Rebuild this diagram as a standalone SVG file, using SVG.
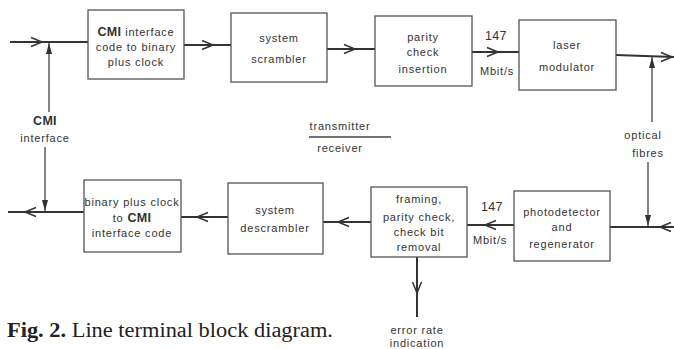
<svg xmlns="http://www.w3.org/2000/svg" width="674" height="349" viewBox="0 0 674 349">
<style>
.box{fill:#fff;stroke:#555;stroke-width:1.3}
.sig{fill:none;stroke:#333;stroke-width:2}
.thin{fill:none;stroke:#444;stroke-width:1.3}
.chev{fill:none;stroke:#333;stroke-width:1.5;stroke-linejoin:miter}
.tri{fill:#333;stroke:none}
text{font-family:"Liberation Sans",Arial,sans-serif;font-size:11px;fill:#333;letter-spacing:0.8px;text-anchor:middle}
.b{font-weight:bold;font-size:12.5px;letter-spacing:0.3px}
.cap{font-family:"Liberation Serif","Times New Roman",serif;font-size:20px;fill:#222;text-anchor:start;letter-spacing:0}
</style>
<defs>
<path id="chev" class="chev" d="M-11,-4.5 L0,0 L-11,4.5"/>
<path id="tri" class="tri" d="M0,0 L-3,-11 L3,-11 Z"/>
</defs>
<g id="connectors">
<path class="sig" d="M10,42 L88,42"/><use href="#chev" transform="translate(42,42)"/>
<path class="thin" d="M49,112 L49,43"/><use href="#tri" transform="translate(49,43) rotate(180)"/>
<path class="sig" d="M184,45 L231,45"/><use href="#chev" transform="translate(213,45)"/>
<path class="sig" d="M327,49 L375,49"/><use href="#chev" transform="translate(355,49)"/>
<path class="sig" d="M472,52 L519,52"/><use href="#chev" transform="translate(498,52)"/>
<path class="sig" d="M616,55 L674,57"/><use href="#chev" transform="translate(672,57)"/>
<path class="thin" d="M652,122 L652,57"/><use href="#tri" transform="translate(652,57) rotate(180)"/>
<path class="thin" d="M45,147 L45,211"/><use href="#tri" transform="translate(45,211)"/>
<path class="sig" d="M84,212 L8,212"/><use href="#chev" transform="translate(25,212) rotate(180)"/>
<path class="sig" d="M228,217 L181,217"/><use href="#chev" transform="translate(197,217) rotate(180)"/>
<path class="sig" d="M371,222 L323,222"/><use href="#chev" transform="translate(338,222) rotate(180)"/>
<path class="sig" d="M514,225 L467,225"/><use href="#chev" transform="translate(485,225) rotate(180)"/>
<path class="sig" d="M674,227 L610,227"/><use href="#chev" transform="translate(660,227) rotate(180)"/>
<path class="thin" d="M648,162 L648,226"/><use href="#tri" transform="translate(648,226)"/>
<path class="sig" d="M417,257 L417,317"/><use href="#chev" transform="translate(417,293) rotate(90)"/>
<path class="thin" d="M309,137 L391,137"/>
</g>
<g id="cmi-to-binary">
<rect class="box" x="88" y="10" width="96" height="69"/>
<text x="136" y="36"><tspan class="b">CMI</tspan> interface</text>
<text x="136" y="51">code to binary</text>
<text x="136" y="66">plus clock</text>
</g>
<g id="scrambler">
<rect class="box" x="231" y="13" width="96" height="69"/>
<text x="279" y="42">system</text>
<text x="279" y="63">scrambler</text>
</g>
<g id="parity-insertion">
<rect class="box" x="375" y="16" width="97" height="70"/>
<text x="423" y="41">parity</text>
<text x="423" y="56">check</text>
<text x="423" y="73">insertion</text>
</g>
<g id="laser">
<rect class="box" x="519" y="20" width="97" height="70"/>
<text x="567" y="49">laser</text>
<text x="567" y="71">modulator</text>
</g>
<g id="binary-to-cmi">
<rect class="box" x="84" y="180" width="97" height="72"/>
<text x="132" y="206">binary plus clock</text>
<text x="132" y="222">to <tspan class="b">CMI</tspan></text>
<text x="132" y="237">interface code</text>
</g>
<g id="descrambler">
<rect class="box" x="228" y="183" width="95" height="71"/>
<text x="275" y="214">system</text>
<text x="275" y="232">descrambler</text>
</g>
<g id="framing">
<rect class="box" x="371" y="187" width="96" height="70"/>
<text x="419" y="203">framing,</text>
<text x="419" y="221">parity check,</text>
<text x="419" y="236">check bit</text>
<text x="419" y="251">removal</text>
</g>
<g id="photodetector">
<rect class="box" x="514" y="191" width="96" height="70"/>
<text x="562" y="216">photodetector</text>
<text x="562" y="231">and</text>
<text x="562" y="248">regenerator</text>
</g>
<g id="labels">
<text class="b" x="45" y="125">CMI</text>
<text x="45" y="142">interface</text>
<text x="340" y="130">transmitter</text>
<text x="340" y="152">receiver</text>
<text class="b" x="496" y="40" style="font-weight:normal">147</text>
<text x="497" y="75">Mbit/s</text>
<text class="b" x="492" y="211" style="font-weight:normal">147</text>
<text x="490" y="244">Mbit/s</text>
<text x="643" y="139">optical</text>
<text x="648" y="157">fibres</text>
<text x="417" y="334">error rate</text>
<text x="417" y="347">indication</text>
<text class="cap" x="7" y="337" textLength="326" lengthAdjust="spacingAndGlyphs"><tspan font-weight="bold">Fig. 2.</tspan> Line terminal block diagram.</text>
</g>
</svg>
